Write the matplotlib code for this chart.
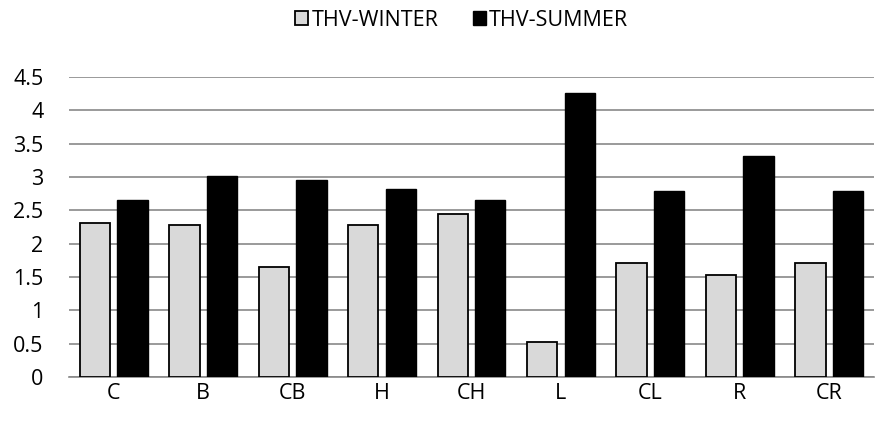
import numpy as np
import matplotlib as mpl
mpl.use('Agg')
import matplotlib.pyplot as plt

mpl.rcParams['font.family'] = ['Open Sans', 'DejaVu Sans']
mpl.rcParams['font.size'] = 15.5

# data
categories = ['C', 'B', 'CB', 'H', 'CH', 'L', 'CL', 'R', 'CR']
winter = [2.31, 2.28, 1.655, 2.28, 2.445, 0.53, 1.715, 1.535, 1.715]
summer = [2.655, 3.015, 2.96, 2.82, 2.655, 4.255, 2.795, 3.32, 2.795]
y_ticks = [0, 0.5, 1, 1.5, 2, 2.5, 3, 3.5, 4, 4.5]
y_tick_labels = ['0', '0.5', '1', '1.5', '2', '2.5', '3', '3.5', '4', '4.5']

fig = plt.figure(figsize=(8.76, 4.30), dpi=100)
ax = fig.add_axes([0.0788, 0.1233, 0.9189, 0.6977])

x = np.arange(len(categories))
width = 0.34
offset = 0.21

ax.bar(x - offset, winter, width, color='#d9d9d9', edgecolor='black',
       linewidth=1.3, label='THV-WINTER', zorder=3)
ax.bar(x + offset, summer, width, color='black', edgecolor='black',
       linewidth=1.0, label='THV-SUMMER', zorder=3)

# axes
ax.set_xlim(-0.5, len(categories) - 0.5)
ax.set_ylim(0, 4.5)
ax.set_yticks(y_ticks)
ax.set_yticklabels(y_tick_labels)
ax.set_xticks(x)
ax.set_xticklabels(categories)
ax.tick_params(axis='both', length=0, labelsize=15.5)
ax.tick_params(axis='y', pad=18.5)
ax.tick_params(axis='x', pad=4)

for side in ['top', 'right', 'left']:
    ax.spines[side].set_visible(False)
ax.spines['bottom'].set_color('#898989')
ax.spines['bottom'].set_linewidth(1.2)

# grid
ax.yaxis.grid(True, color='#898989', linewidth=1.2, zorder=0)
ax.set_axisbelow(True)

# legend
fig.legend(loc='center', bbox_to_anchor=(0.527, 0.953), ncol=2, frameon=False,
           fontsize=15.5, handlelength=0.6, handleheight=0.6, handletextpad=0.15,
           columnspacing=1.6)

plt.savefig('out.png', dpi=100)
plt.close()
